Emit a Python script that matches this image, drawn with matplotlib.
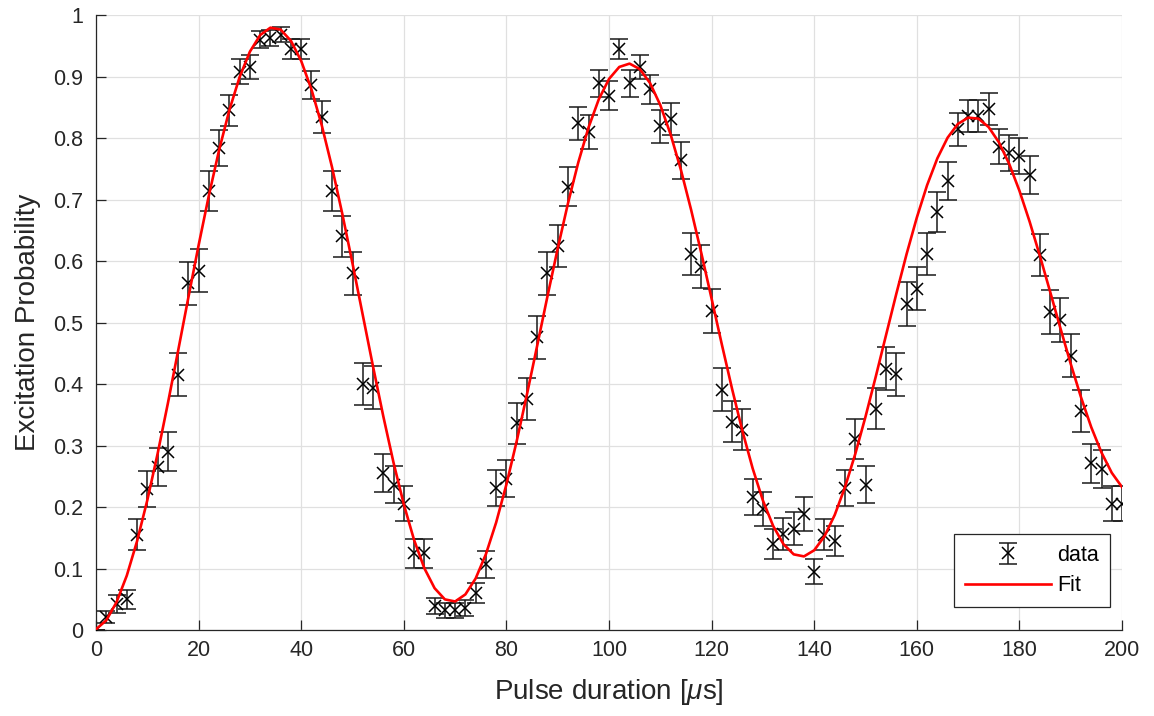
import numpy as np
import matplotlib
matplotlib.use("Agg")
import matplotlib.pyplot as plt

# Pulse durations (µs)
pulse_us = list(range(0, 201, 2))

# Measured excitation probability at each pulse duration
excitation = [
    0.000, 0.021, 0.042, 0.050, 0.155, 0.229, 0.265, 0.290, 0.415, 0.564,
    0.584, 0.714, 0.784, 0.845, 0.908, 0.915, 0.960, 0.963, 0.968, 0.944,
    0.944, 0.886, 0.834, 0.714, 0.640, 0.580, 0.400, 0.394, 0.255, 0.236,
    0.205, 0.125, 0.125, 0.039, 0.032, 0.032, 0.036, 0.060, 0.107, 0.231,
    0.246, 0.336, 0.376, 0.476, 0.580, 0.625, 0.721, 0.824, 0.810, 0.889,
    0.869, 0.945, 0.889, 0.915, 0.879, 0.819, 0.831, 0.764, 0.611, 0.591,
    0.519, 0.391, 0.339, 0.326, 0.216, 0.197, 0.140, 0.156, 0.165, 0.189,
    0.095, 0.155, 0.145, 0.231, 0.310, 0.236, 0.360, 0.425, 0.416, 0.530,
    0.555, 0.611, 0.680, 0.730, 0.814, 0.836, 0.836, 0.847, 0.786, 0.776,
    0.771, 0.740, 0.610, 0.517, 0.504, 0.446, 0.356, 0.271, 0.262, 0.205,
    0.205,
]

# Fitted Rabi curve evaluated at the same pulse durations
fit_curve = [
    0.0012, 0.0157, 0.0452, 0.0885, 0.1444, 0.2111, 0.2864, 0.3683, 0.4539, 0.5406,
    0.6257, 0.7066, 0.7807, 0.8456, 0.8994, 0.9405, 0.9674, 0.9795, 0.9763, 0.9580,
    0.9252, 0.8790, 0.8208, 0.7528, 0.6770, 0.5959, 0.5121, 0.4284, 0.3475, 0.2719,
    0.2043, 0.1464, 0.1005, 0.0680, 0.0498, 0.0464, 0.0579, 0.0838, 0.1233, 0.1749,
    0.2368, 0.3070, 0.3831, 0.4625, 0.5426, 0.6205, 0.6939, 0.7601, 0.8170, 0.8629,
    0.8961, 0.9156, 0.9210, 0.9121, 0.8893, 0.8535, 0.8060, 0.7486, 0.6833, 0.6125,
    0.5385, 0.4640, 0.3916, 0.3237, 0.2627, 0.2105, 0.1691, 0.1396, 0.1230, 0.1197,
    0.1297, 0.1525, 0.1872, 0.2323, 0.2863, 0.3470, 0.4122, 0.4796, 0.5467, 0.6112,
    0.6707, 0.7233, 0.7670, 0.8006, 0.8229, 0.8332, 0.8315, 0.8178, 0.7930, 0.7580,
    0.7143, 0.6637, 0.6081, 0.5496, 0.4904, 0.4327, 0.3785, 0.3298, 0.2885, 0.2556,
    0.2324,
]

# Number of repetitions per point (binomial projection noise)
n_shots = 200

x_ticks = list(range(0, 201, 20))
y_ticks = [0, 0.1, 0.2, 0.3, 0.4, 0.5, 0.6, 0.7, 0.8, 0.9, 1]
y_tick_labels = ["0", "0.1", "0.2", "0.3", "0.4", "0.5", "0.6", "0.7", "0.8", "0.9", "1"]

plt.rcParams["font.family"] = ["Liberation Sans", "DejaVu Sans"]
plt.rcParams["mathtext.fontset"] = "custom"
plt.rcParams["mathtext.it"] = "Liberation Sans:italic"
plt.rcParams["mathtext.rm"] = "Liberation Sans"

axis_color = "#262626"

p = np.array(excitation)
err = np.sqrt(p * (1 - p) / n_shots)

fig = plt.figure(figsize=(11.54, 7.16), dpi=100)
ax = fig.add_axes([0.0832, 0.1201, 0.8891, 0.8589])

eb = ax.errorbar(pulse_us, excitation, yerr=err, fmt="x", color="black",
                 ecolor="#1a1a1a", elinewidth=1.1, capsize=6.5, capthick=1.1,
                 markersize=9, markeredgewidth=1.1, label="data", zorder=3)
fit_line, = ax.plot(pulse_us, fit_curve, color="#ff0000", linewidth=1.9,
                    label="Fit", zorder=4)

ax.set_xlim(0, 200)
ax.set_ylim(0, 1)
ax.set_xticks(x_ticks)
ax.set_yticks(y_ticks)
ax.set_yticklabels(y_tick_labels)

ax.grid(True, color="#e0e0e0", linewidth=0.9)
ax.set_axisbelow(True)

for side in ("top", "right"):
    ax.spines[side].set_visible(False)
for side in ("left", "bottom"):
    ax.spines[side].set_color(axis_color)
    ax.spines[side].set_linewidth(0.9)

ax.tick_params(axis="both", direction="in", length=7, width=0.9,
               colors=axis_color, labelsize=15.5)
ax.tick_params(axis="y", pad=9)
ax.tick_params(axis="x", pad=7)

ax.set_xlabel(r"Pulse duration [$\mu$s]", fontsize=20, color=axis_color, labelpad=12)
ax.set_ylabel("Excitation Probability", fontsize=20, color=axis_color, labelpad=9)

leg = ax.legend([eb, fit_line], ["data", "Fit"], loc="lower right",
                bbox_to_anchor=(0.988, 0.037), borderaxespad=0, fontsize=15.5,
                frameon=True, fancybox=False, edgecolor=axis_color,
                framealpha=1, handlelength=4.0, handletextpad=0.3,
                borderpad=0.5, labelspacing=0.45)
leg.get_frame().set_linewidth(0.9)

fig.savefig("out.png", dpi=100)
